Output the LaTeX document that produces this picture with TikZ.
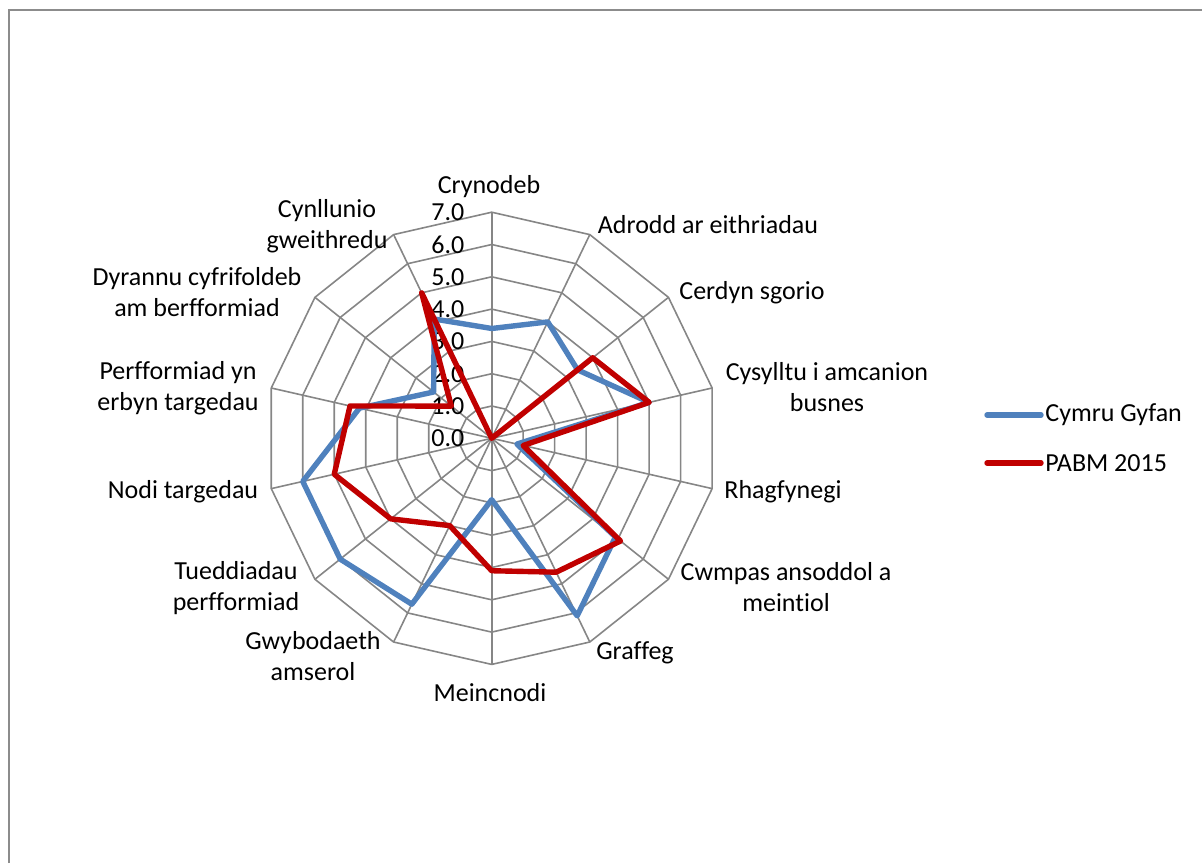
\documentclass[tikz,border=0pt]{standalone}
\usepackage{fontspec}
\setmainfont{Carlito}[Ligatures={NoCommon}]
\definecolor{gridgray}{HTML}{868686}
\definecolor{framegray}{HTML}{8C8C8C}
\definecolor{cymrublue}{HTML}{4F81BD}
\definecolor{pabmred}{HTML}{C00000}
\tikzset{
  gridline/.style = {draw=gridgray, line width=0.8pt},
  lbl/.style = {align=center, inner sep=0pt, black, font=\fontsize{13}{15.5}\selectfont},
  ticklbl/.style = {lbl, anchor=east},
  legendtxt/.style = {lbl, anchor=west},
  series/.style = {line width=2.7pt, line join=round},
  cymru/.style = {series, draw=cymrublue},
  pabm/.style = {series, draw=pabmred}
}

\begin{document}
\begin{tikzpicture}[x=0.5pt, y=-0.5pt]
\useasboundingbox (0,0) rectangle (1202,863);
\draw[framegray, line width=1pt] (8.5,863) -- (8.5,10) -- (1202,10);

\begin{scope}[shift={(491.7,438.3)}]
\foreach \k in {0,...,13}
  \draw[gridline] (0,0) -- (-90+\k*360/14:7*32.3);
\foreach \r in {1,...,7}
  \draw[gridline] (-90:\r*32.3) \foreach \k in {1,...,13}{ -- (-90+\k*360/14:\r*32.3)} -- cycle;
\foreach \r in {0,...,7}
  \node[ticklbl] (tick\r) at (-27,-\r*32.3) {\r.0};

\foreach \v [count=\k from 0] in {3.4,4.0,3.4,5.0,0.8,4.9,6.1,1.9,5.7,6.0,6.0,4.2,2.3,4.1}
  \coordinate (b\k) at (-90+\k*360/14:\v*32.3);
\foreach \v [count=\k from 0] in {0,0,4.0,5.0,1.0,5.1,4.6,4.1,3.0,4.0,5.0,4.5,1.6,5.0}
  \coordinate (r\k) at (-90+\k*360/14:\v*32.3);
\draw[cymru] (b0) \foreach \k in {1,...,13}{ -- (b\k)} -- cycle;
\draw[pabm] (r0) \foreach \k in {1,...,13}{ -- (r\k)} -- cycle;
\end{scope}

\node[lbl] (crynodeb) at (489,187) {Crynodeb};
\node[lbl] (adrodd) at (708,225) {Adrodd ar eithriadau};
\node[lbl] (cerdyn) at (752,293) {Cerdyn sgorio};
\node[lbl] (cysylltu) at (827,387) {Cysylltu i amcanion\\busnes};
\node[lbl] (rhagfynegi) at (783,492) {Rhagfynegi};
\node[lbl] (cwmpas) at (786,587) {Cwmpas ansoddol a\\meintiol};
\node[lbl] (graffeg) at (635,653) {Graffeg};
\node[lbl] (meincnodi) at (490,693) {Meincnodi};
\node[lbl] (gwybodaeth) at (313,656) {Gwybodaeth\\amserol};
\node[lbl] (tueddiadau) at (236,588) {Tueddiadau\\perfformiad};
\node[lbl] (nodi) at (183,492) {Nodi targedau};
\node[lbl] (perfformiad) at (178,388) {Perfformiad yn\\erbyn targedau};
\node[lbl] (dyrannu) at (197,292) {Dyrannu cyfrifoldeb\\am berfformiad};
\node[lbl] (cynllunio) at (327,226) {Cynllunio\\gweithredu};

\coordinate (cymruL) at (987,415);
\coordinate (cymruR) at (1041,415);
\coordinate (pabmL) at (987,463);
\coordinate (pabmR) at (1041,463);
\draw[cymru, line cap=round] (cymruL) -- (cymruR);
\draw[pabm, line cap=round] (pabmL) -- (pabmR);
\node[legendtxt] (cymrutxt) at (1045,415) {Cymru Gyfan};
\node[legendtxt] (pabmtxt) at (1045,463) {PABM 2015};
\end{tikzpicture}
\end{document}
